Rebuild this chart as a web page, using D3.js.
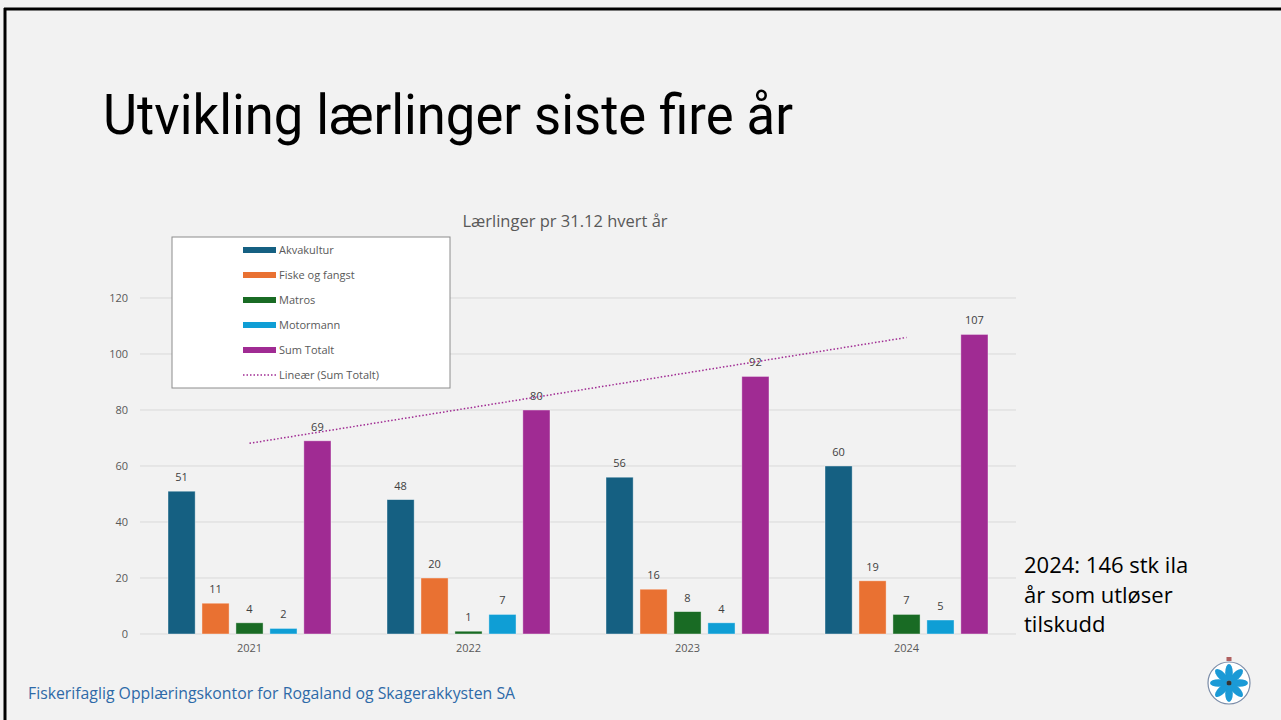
<!DOCTYPE html>
<html>
<head>
<meta charset="utf-8">
<script src="https://cdn.jsdelivr.net/npm/d3@7"></script>
<style>
  html, body { margin: 0; padding: 0; background: #f2f2f2; }
  svg { display: block; }
</style>
</head>
<body>
<div id="vis"></div>
<script>
// data
var years = ["2021", "2022", "2023", "2024"];
var seriesNames = ["Akvakultur", "Fiske og fangst", "Matros", "Motormann", "Sum Totalt"];
var akvakultur = [51, 48, 56, 60];
var fiske = [11, 20, 16, 19];
var matros = [4, 1, 8, 7];
var motormann = [2, 7, 4, 5];
var sumTotalt = [69, 80, 92, 107];
var yTicks = [0, 20, 40, 60, 80, 100, 120];
var colors = ["#156082", "#e97132", "#196b24", "#0f9ed5", "#a02b93"];

var seriesValues = [akvakultur, fiske, matros, motormann, sumTotalt];

var width = 1281, height = 720;
var plot = { left: 140, right: 1016, top: 298, bottom: 634 };

var svg = d3.select("#vis").append("svg")
    .attr("width", width)
    .attr("height", height)
    .style("font-family", "'Open Sans', sans-serif");

svg.append("rect").attr("width", width).attr("height", height).attr("fill", "#f2f2f2");

// slide frame (top and left edges)
svg.append("line").attr("x1", 4).attr("x2", width).attr("y1", 9).attr("y2", 9)
    .attr("stroke", "#000").attr("stroke-width", 3);
svg.append("line").attr("x1", 5).attr("x2", 5).attr("y1", 8).attr("y2", height)
    .attr("stroke", "#000").attr("stroke-width", 3);

// slide title
svg.append("text")
    .attr("x", 103).attr("y", 134)
    .attr("font-family", "Roboto, sans-serif")
    .attr("font-size", 56)
    .attr("textLength", 690)
    .attr("lengthAdjust", "spacingAndGlyphs")
    .attr("fill", "#000")
    .text("Utvikling lærlinger siste fire år");

// chart title
svg.append("text")
    .attr("x", 565).attr("y", 227)
    .attr("text-anchor", "middle")
    .attr("font-size", 16.5)
    .attr("fill", "#595959")
    .text("Lærlinger pr 31.12 hvert år");

var x0 = d3.scaleBand()
    .domain(years)
    .range([plot.left, plot.right]);

var x1 = d3.scaleBand()
    .domain(seriesNames)
    .range([28, 191])
    .paddingInner(0.2);

var y = d3.scaleLinear()
    .domain([0, 120])
    .range([plot.bottom, plot.top]);

// gridlines
svg.append("g")
    .selectAll("line")
    .data(yTicks)
    .enter().append("line")
    .attr("x1", plot.left).attr("x2", plot.right)
    .attr("y1", function(d) { return y(d); })
    .attr("y2", function(d) { return y(d); })
    .attr("stroke", "#d9d9d9")
    .attr("stroke-width", 1);

// y axis labels
var yAxis = d3.axisLeft(y).tickValues(yTicks).tickSize(0).tickPadding(12);
svg.append("g")
    .attr("transform", "translate(" + plot.left + ",0)")
    .call(yAxis)
    .call(function(g) { g.select(".domain").remove(); })
    .selectAll("text")
    .attr("font-size", 11)
    .attr("fill", "#595959")
    .attr("font-family", "'Open Sans', sans-serif");

// x axis labels
var xAxis = d3.axisBottom(x0).tickSize(0).tickPadding(10);
svg.append("g")
    .attr("transform", "translate(0," + plot.bottom + ")")
    .call(xAxis)
    .call(function(g) { g.select(".domain").remove(); })
    .selectAll("text")
    .attr("font-size", 11)
    .attr("fill", "#595959")
    .attr("font-family", "'Open Sans', sans-serif");

// bars
var groups = svg.append("g")
    .selectAll("g")
    .data(years)
    .enter().append("g")
    .attr("transform", function(d) { return "translate(" + x0(d) + ",0)"; });

groups.each(function(yr, i) {
    var g = d3.select(this);
    var rows = seriesNames.map(function(name, s) {
        return { name: name, value: seriesValues[s][i], color: colors[s] };
    });
    g.selectAll("rect")
        .data(rows)
        .enter().append("rect")
        .attr("x", function(d) { return x1(d.name); })
        .attr("y", function(d) { return y(d.value); })
        .attr("width", x1.bandwidth())
        .attr("height", function(d) { return y(0) - y(d.value); })
        .attr("fill", function(d) { return d.color; })
        .attr("stroke", "#ffffff")
        .attr("stroke-opacity", 0.5)
        .attr("stroke-width", 0.8);
    g.selectAll("text")
        .data(rows)
        .enter().append("text")
        .attr("x", function(d) { return x1(d.name) + x1.bandwidth() / 2; })
        .attr("y", function(d) { return y(d.value) - 10; })
        .attr("text-anchor", "middle")
        .attr("font-size", 11)
        .attr("fill", "#404040")
        .text(function(d) { return d.value; });
});

// linear trendline for Sum Totalt (least squares, x = 1..n)
var n = sumTotalt.length;
var mx = d3.mean(d3.range(1, n + 1));
var my = d3.mean(sumTotalt);
var slope = d3.sum(sumTotalt, function(v, i) { return (i + 1 - mx) * (v - my); }) /
    d3.sum(d3.range(1, n + 1), function(k) { return (k - mx) * (k - mx); });
var intercept = my - slope * mx;
var trend = years.map(function(yr, i) { return { year: yr, v: intercept + slope * (i + 1) }; });
var trendLine = d3.line()
    .x(function(d) { return x0(d.year) + x0.bandwidth() / 2; })
    .y(function(d) { return y(d.v); });
svg.append("path")
    .datum([trend[0], trend[n - 1]])
    .attr("d", trendLine)
    .attr("fill", "none")
    .attr("stroke", colors[4])
    .attr("stroke-width", 1.5)
    .attr("stroke-dasharray", "1.5,2");

// legend
var legend = svg.append("g");
legend.append("rect")
    .attr("x", 172).attr("y", 237)
    .attr("width", 278).attr("height", 151)
    .attr("fill", "#ffffff")
    .attr("stroke", "#8c8c8c")
    .attr("stroke-width", 1);

var legendItems = seriesNames.concat(["Lineær (Sum Totalt)"]);
var li = legend.selectAll("g.item")
    .data(legendItems)
    .enter().append("g")
    .attr("class", "item")
    .attr("transform", function(d, i) { return "translate(243," + (250 + i * 25) + ")"; });
li.each(function(d, i) {
    var g = d3.select(this);
    if (i < 5) {
        g.append("rect").attr("x", 0).attr("y", -3).attr("width", 33).attr("height", 6)
            .attr("fill", colors[i]);
    } else {
        g.append("line").attr("x1", 0).attr("x2", 33).attr("y1", 0).attr("y2", 0)
            .attr("stroke", colors[4]).attr("stroke-width", 1.5)
            .attr("stroke-dasharray", "1.5,2");
    }
    g.append("text")
        .attr("x", 36).attr("y", 4)
        .attr("font-size", 11)
        .attr("fill", "#595959")
        .text(d);
});

// side note
var note = ["2024: 146 stk ila", "år som utløser", "tilskudd"];
svg.append("g").selectAll("text")
    .data(note)
    .enter().append("text")
    .attr("x", 1024)
    .attr("y", function(d, i) { return 573 + i * 29.5; })
    .attr("font-size", 22)
    .attr("fill", "#000")
    .text(function(d) { return d; });

// footer
svg.append("text")
    .attr("x", 28).attr("y", 699)
    .attr("font-size", 15.8)
    .attr("fill", "#2e6aa8")
    .text("Fiskerifaglig Opplæringskontor for Rogaland og Skagerakkysten SA");

// logo
var logo = svg.append("g").attr("transform", "translate(1229,683)");
logo.append("circle").attr("r", 21).attr("fill", "#ffffff").attr("stroke", "#7a8ca8").attr("stroke-width", 1.2);
logo.append("rect").attr("x", -2.5).attr("y", -26).attr("width", 5).attr("height", 4).attr("fill", "#b06060");
logo.selectAll("ellipse")
    .data(d3.range(8))
    .enter().append("ellipse")
    .attr("cx", 0).attr("cy", -10.5)
    .attr("rx", 3.8).attr("ry", 8.5)
    .attr("fill", "#1b9ad6")
    .attr("transform", function(d) { return "rotate(" + (d * 45) + ")"; });
logo.append("circle").attr("r", 2.5).attr("fill", "#333");
</script>
</body>
</html>
